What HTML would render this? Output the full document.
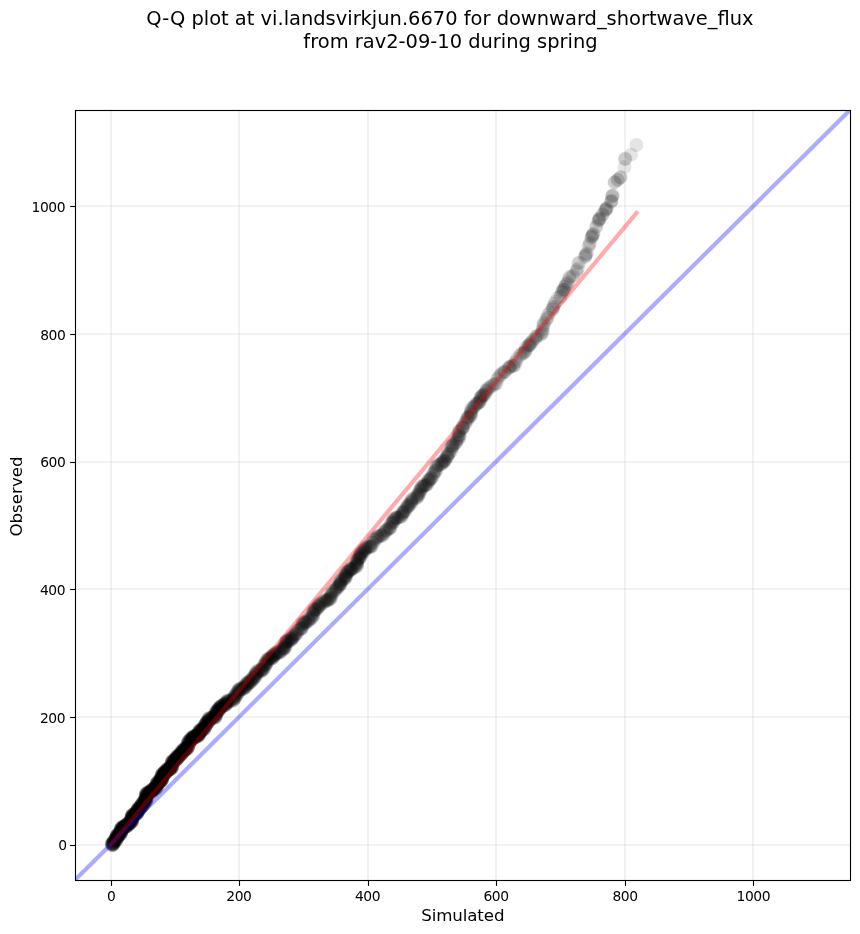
<!DOCTYPE html>
<html><head><meta charset="utf-8"><title>Q-Q plot</title>
<style>
html,body{margin:0;padding:0;background:#fff;}
svg{display:block;}
text{font-family:"DejaVu Sans","Liberation Sans",sans-serif;fill:#000;}
</style></head><body>
<svg width="860" height="934" viewBox="0 0 860 934">
<rect width="860" height="934" fill="#fff"/>
<defs><clipPath id="ax"><rect x="75.5" y="110.5" width="775.0" height="770.0"/></clipPath></defs>
<g clip-path="url(#ax)">
<g stroke="#b0b0b0" stroke-opacity="0.17" stroke-width="2"><line x1="111" y1="110.5" x2="111" y2="880.5"/><line x1="75.5" y1="845" x2="850.5" y2="845"/><line x1="239" y1="110.5" x2="239" y2="880.5"/><line x1="75.5" y1="717" x2="850.5" y2="717"/><line x1="368" y1="110.5" x2="368" y2="880.5"/><line x1="75.5" y1="589" x2="850.5" y2="589"/><line x1="496" y1="110.5" x2="496" y2="880.5"/><line x1="75.5" y1="462" x2="850.5" y2="462"/><line x1="625" y1="110.5" x2="625" y2="880.5"/><line x1="75.5" y1="334" x2="850.5" y2="334"/><line x1="753" y1="110.5" x2="753" y2="880.5"/><line x1="75.5" y1="206" x2="850.5" y2="206"/></g>
<g fill="#000" fill-opacity="0.1"><circle cx="112.7" cy="845.7" r="6.95"/><circle cx="111.7" cy="845.0" r="6.95"/><circle cx="112.7" cy="845.2" r="6.95"/><circle cx="111.8" cy="844.4" r="6.95"/><circle cx="113.1" cy="844.6" r="6.95"/><circle cx="111.9" cy="844.0" r="6.95"/><circle cx="113.3" cy="844.5" r="6.95"/><circle cx="112.1" cy="843.9" r="6.95"/><circle cx="113.0" cy="844.2" r="6.95"/><circle cx="111.8" cy="843.4" r="6.95"/><circle cx="113.3" cy="844.0" r="6.95"/><circle cx="112.1" cy="843.1" r="6.95"/><circle cx="113.2" cy="843.5" r="6.95"/><circle cx="112.6" cy="842.6" r="6.95"/><circle cx="113.9" cy="843.3" r="6.95"/><circle cx="113.0" cy="842.3" r="6.95"/><circle cx="114.2" cy="842.9" r="6.95"/><circle cx="113.5" cy="841.6" r="6.95"/><circle cx="114.4" cy="842.0" r="6.95"/><circle cx="113.5" cy="840.8" r="6.95"/><circle cx="115.2" cy="841.6" r="6.95"/><circle cx="114.2" cy="840.6" r="6.95"/><circle cx="115.2" cy="841.2" r="6.95"/><circle cx="114.5" cy="840.1" r="6.95"/><circle cx="115.9" cy="840.9" r="6.95"/><circle cx="114.7" cy="839.6" r="6.95"/><circle cx="116.0" cy="840.4" r="6.95"/><circle cx="115.3" cy="839.2" r="6.95"/><circle cx="116.6" cy="839.9" r="6.95"/><circle cx="115.5" cy="838.9" r="6.95"/><circle cx="116.9" cy="839.5" r="6.95"/><circle cx="115.9" cy="838.2" r="6.95"/><circle cx="116.9" cy="838.8" r="6.95"/><circle cx="115.8" cy="837.5" r="6.95"/><circle cx="117.1" cy="838.4" r="6.95"/><circle cx="116.2" cy="836.8" r="6.95"/><circle cx="117.4" cy="837.5" r="6.95"/><circle cx="116.5" cy="836.5" r="6.95"/><circle cx="117.6" cy="837.2" r="6.95"/><circle cx="116.5" cy="836.2" r="6.95"/><circle cx="117.8" cy="836.7" r="6.95"/><circle cx="116.7" cy="835.6" r="6.95"/><circle cx="117.8" cy="836.4" r="6.95"/><circle cx="116.8" cy="835.1" r="6.95"/><circle cx="118.1" cy="836.0" r="6.95"/><circle cx="117.0" cy="834.9" r="6.95"/><circle cx="118.6" cy="836.0" r="6.95"/><circle cx="117.4" cy="834.9" r="6.95"/><circle cx="118.8" cy="835.7" r="6.95"/><circle cx="117.6" cy="834.6" r="6.95"/><circle cx="119.1" cy="835.4" r="6.95"/><circle cx="118.0" cy="834.2" r="6.95"/><circle cx="119.5" cy="834.8" r="6.95"/><circle cx="118.7" cy="834.0" r="6.95"/><circle cx="119.6" cy="834.6" r="6.95"/><circle cx="118.8" cy="833.7" r="6.95"/><circle cx="120.3" cy="834.7" r="6.95"/><circle cx="119.2" cy="833.3" r="6.95"/><circle cx="120.4" cy="834.2" r="6.95"/><circle cx="119.4" cy="833.1" r="6.95"/><circle cx="121.0" cy="833.8" r="6.95"/><circle cx="119.8" cy="832.5" r="6.95"/><circle cx="121.0" cy="833.1" r="6.95"/><circle cx="120.3" cy="832.3" r="6.95"/><circle cx="121.4" cy="832.8" r="6.95"/><circle cx="120.6" cy="831.7" r="6.95"/><circle cx="121.6" cy="832.1" r="6.95"/><circle cx="120.5" cy="830.7" r="6.95"/><circle cx="121.5" cy="831.4" r="6.95"/><circle cx="120.5" cy="830.1" r="6.95"/><circle cx="121.7" cy="830.9" r="6.95"/><circle cx="120.6" cy="829.9" r="6.95"/><circle cx="121.9" cy="830.9" r="6.95"/><circle cx="120.6" cy="829.4" r="6.95"/><circle cx="121.9" cy="830.4" r="6.95"/><circle cx="120.7" cy="829.2" r="6.95"/><circle cx="122.0" cy="830.0" r="6.95"/><circle cx="120.7" cy="828.7" r="6.95"/><circle cx="121.8" cy="829.3" r="6.95"/><circle cx="121.0" cy="828.3" r="6.95"/><circle cx="122.2" cy="828.8" r="6.95"/><circle cx="121.4" cy="828.0" r="6.95"/><circle cx="122.5" cy="828.7" r="6.95"/><circle cx="121.7" cy="827.5" r="6.95"/><circle cx="122.7" cy="828.1" r="6.95"/><circle cx="122.0" cy="827.3" r="6.95"/><circle cx="123.0" cy="827.9" r="6.95"/><circle cx="122.6" cy="827.0" r="6.95"/><circle cx="123.5" cy="827.5" r="6.95"/><circle cx="123.0" cy="826.7" r="6.95"/><circle cx="124.2" cy="827.3" r="6.95"/><circle cx="123.4" cy="826.5" r="6.95"/><circle cx="124.7" cy="827.4" r="6.95"/><circle cx="123.6" cy="826.3" r="6.95"/><circle cx="124.8" cy="827.2" r="6.95"/><circle cx="124.1" cy="826.3" r="6.95"/><circle cx="125.5" cy="827.2" r="6.95"/><circle cx="124.3" cy="825.9" r="6.95"/><circle cx="125.9" cy="827.0" r="6.95"/><circle cx="124.9" cy="825.7" r="6.95"/><circle cx="126.2" cy="826.5" r="6.95"/><circle cx="125.4" cy="825.5" r="6.95"/><circle cx="126.8" cy="826.3" r="6.95"/><circle cx="125.9" cy="825.3" r="6.95"/><circle cx="127.3" cy="826.2" r="6.95"/><circle cx="126.1" cy="824.9" r="6.95"/><circle cx="127.6" cy="825.9" r="6.95"/><circle cx="126.4" cy="824.8" r="6.95"/><circle cx="127.7" cy="825.4" r="6.95"/><circle cx="127.0" cy="824.7" r="6.95"/><circle cx="128.1" cy="825.2" r="6.95"/><circle cx="127.0" cy="824.0" r="6.95"/><circle cx="128.5" cy="824.5" r="6.95"/><circle cx="127.7" cy="823.7" r="6.95"/><circle cx="128.8" cy="824.4" r="6.95"/><circle cx="127.8" cy="823.1" r="6.95"/><circle cx="129.3" cy="823.9" r="6.95"/><circle cx="128.6" cy="823.1" r="6.95"/><circle cx="129.5" cy="823.6" r="6.95"/><circle cx="128.8" cy="822.8" r="6.95"/><circle cx="129.9" cy="823.4" r="6.95"/><circle cx="129.0" cy="822.3" r="6.95"/><circle cx="130.4" cy="823.2" r="6.95"/><circle cx="129.8" cy="822.0" r="6.95"/><circle cx="131.0" cy="822.9" r="6.95"/><circle cx="130.0" cy="821.6" r="6.95"/><circle cx="131.1" cy="822.3" r="6.95"/><circle cx="130.6" cy="821.1" r="6.95"/><circle cx="131.8" cy="821.9" r="6.95"/><circle cx="130.6" cy="820.7" r="6.95"/><circle cx="132.1" cy="821.4" r="6.95"/><circle cx="130.8" cy="820.2" r="6.95"/><circle cx="132.2" cy="821.0" r="6.95"/><circle cx="131.2" cy="820.2" r="6.95"/><circle cx="132.5" cy="820.8" r="6.95"/><circle cx="131.3" cy="819.7" r="6.95"/><circle cx="132.4" cy="820.3" r="6.95"/><circle cx="131.3" cy="819.3" r="6.95"/><circle cx="132.4" cy="819.7" r="6.95"/><circle cx="131.3" cy="818.6" r="6.95"/><circle cx="132.6" cy="819.3" r="6.95"/><circle cx="131.4" cy="818.2" r="6.95"/><circle cx="132.5" cy="818.7" r="6.95"/><circle cx="131.4" cy="817.4" r="6.95"/><circle cx="132.4" cy="817.8" r="6.95"/><circle cx="131.4" cy="816.9" r="6.95"/><circle cx="132.5" cy="817.5" r="6.95"/><circle cx="131.6" cy="816.7" r="6.95"/><circle cx="132.8" cy="817.4" r="6.95"/><circle cx="131.6" cy="816.4" r="6.95"/><circle cx="132.9" cy="816.8" r="6.95"/><circle cx="131.7" cy="815.7" r="6.95"/><circle cx="132.9" cy="816.3" r="6.95"/><circle cx="131.9" cy="815.4" r="6.95"/><circle cx="133.2" cy="815.9" r="6.95"/><circle cx="132.2" cy="815.1" r="6.95"/><circle cx="133.3" cy="815.8" r="6.95"/><circle cx="132.5" cy="814.7" r="6.95"/><circle cx="133.8" cy="815.5" r="6.95"/><circle cx="132.9" cy="814.6" r="6.95"/><circle cx="134.3" cy="815.5" r="6.95"/><circle cx="133.0" cy="814.5" r="6.95"/><circle cx="134.8" cy="815.1" r="6.95"/><circle cx="133.6" cy="813.9" r="6.95"/><circle cx="135.2" cy="814.4" r="6.95"/><circle cx="134.5" cy="813.7" r="6.95"/><circle cx="135.9" cy="814.3" r="6.95"/><circle cx="135.0" cy="813.5" r="6.95"/><circle cx="136.3" cy="814.0" r="6.95"/><circle cx="135.5" cy="813.3" r="6.95"/><circle cx="136.6" cy="813.9" r="6.95"/><circle cx="135.7" cy="813.1" r="6.95"/><circle cx="137.0" cy="813.7" r="6.95"/><circle cx="135.9" cy="812.7" r="6.95"/><circle cx="137.4" cy="813.5" r="6.95"/><circle cx="136.3" cy="812.5" r="6.95"/><circle cx="137.6" cy="813.1" r="6.95"/><circle cx="136.5" cy="812.3" r="6.95"/><circle cx="137.6" cy="812.7" r="6.95"/><circle cx="136.5" cy="811.8" r="6.95"/><circle cx="137.7" cy="812.3" r="6.95"/><circle cx="136.8" cy="811.3" r="6.95"/><circle cx="138.0" cy="812.0" r="6.95"/><circle cx="137.1" cy="811.0" r="6.95"/><circle cx="137.9" cy="811.4" r="6.95"/><circle cx="137.0" cy="810.6" r="6.95"/><circle cx="138.1" cy="811.0" r="6.95"/><circle cx="137.3" cy="810.2" r="6.95"/><circle cx="138.3" cy="810.8" r="6.95"/><circle cx="137.1" cy="809.6" r="6.95"/><circle cx="138.4" cy="810.2" r="6.95"/><circle cx="137.4" cy="809.2" r="6.95"/><circle cx="139.0" cy="809.9" r="6.95"/><circle cx="138.0" cy="809.1" r="6.95"/><circle cx="139.0" cy="809.7" r="6.95"/><circle cx="137.9" cy="808.4" r="6.95"/><circle cx="139.6" cy="808.9" r="6.95"/><circle cx="138.5" cy="807.9" r="6.95"/><circle cx="140.0" cy="808.7" r="6.95"/><circle cx="139.2" cy="807.6" r="6.95"/><circle cx="140.4" cy="808.1" r="6.95"/><circle cx="139.4" cy="807.0" r="6.95"/><circle cx="140.7" cy="807.8" r="6.95"/><circle cx="139.9" cy="807.0" r="6.95"/><circle cx="141.2" cy="807.6" r="6.95"/><circle cx="139.8" cy="806.6" r="6.95"/><circle cx="141.2" cy="807.2" r="6.95"/><circle cx="140.4" cy="806.3" r="6.95"/><circle cx="141.9" cy="806.9" r="6.95"/><circle cx="140.7" cy="805.6" r="6.95"/><circle cx="142.2" cy="806.3" r="6.95"/><circle cx="141.3" cy="805.2" r="6.95"/><circle cx="142.5" cy="805.8" r="6.95"/><circle cx="141.3" cy="804.6" r="6.95"/><circle cx="142.8" cy="805.5" r="6.95"/><circle cx="141.5" cy="804.1" r="6.95"/><circle cx="143.1" cy="804.8" r="6.95"/><circle cx="142.0" cy="803.6" r="6.95"/><circle cx="143.1" cy="804.2" r="6.95"/><circle cx="142.2" cy="803.1" r="6.95"/><circle cx="143.7" cy="803.8" r="6.95"/><circle cx="142.5" cy="802.7" r="6.95"/><circle cx="144.0" cy="803.5" r="6.95"/><circle cx="143.1" cy="802.4" r="6.95"/><circle cx="144.5" cy="802.9" r="6.95"/><circle cx="143.5" cy="801.9" r="6.95"/><circle cx="144.6" cy="802.4" r="6.95"/><circle cx="143.8" cy="801.5" r="6.95"/><circle cx="144.8" cy="802.1" r="6.95"/><circle cx="144.2" cy="801.4" r="6.95"/><circle cx="145.4" cy="802.0" r="6.95"/><circle cx="144.3" cy="801.0" r="6.95"/><circle cx="145.8" cy="801.8" r="6.95"/><circle cx="144.6" cy="800.7" r="6.95"/><circle cx="145.9" cy="801.5" r="6.95"/><circle cx="144.9" cy="800.3" r="6.95"/><circle cx="146.3" cy="800.6" r="6.95"/><circle cx="145.3" cy="799.4" r="6.95"/><circle cx="146.7" cy="800.2" r="6.95"/><circle cx="145.6" cy="799.0" r="6.95"/><circle cx="146.8" cy="799.7" r="6.95"/><circle cx="145.7" cy="798.5" r="6.95"/><circle cx="146.5" cy="799.0" r="6.95"/><circle cx="145.5" cy="798.1" r="6.95"/><circle cx="146.5" cy="798.7" r="6.95"/><circle cx="145.4" cy="797.5" r="6.95"/><circle cx="146.5" cy="798.2" r="6.95"/><circle cx="145.3" cy="797.1" r="6.95"/><circle cx="146.7" cy="797.7" r="6.95"/><circle cx="145.6" cy="796.7" r="6.95"/><circle cx="146.4" cy="797.1" r="6.95"/><circle cx="145.5" cy="796.1" r="6.95"/><circle cx="146.3" cy="796.2" r="6.95"/><circle cx="145.6" cy="795.1" r="6.95"/><circle cx="146.6" cy="795.6" r="6.95"/><circle cx="145.7" cy="794.6" r="6.95"/><circle cx="146.9" cy="794.7" r="6.95"/><circle cx="145.9" cy="793.6" r="6.95"/><circle cx="147.3" cy="794.4" r="6.95"/><circle cx="146.3" cy="793.3" r="6.95"/><circle cx="147.5" cy="794.0" r="6.95"/><circle cx="146.5" cy="793.1" r="6.95"/><circle cx="148.1" cy="793.9" r="6.95"/><circle cx="147.0" cy="793.0" r="6.95"/><circle cx="148.4" cy="793.8" r="6.95"/><circle cx="147.1" cy="792.8" r="6.95"/><circle cx="148.7" cy="793.8" r="6.95"/><circle cx="147.9" cy="792.6" r="6.95"/><circle cx="149.1" cy="793.3" r="6.95"/><circle cx="148.4" cy="792.4" r="6.95"/><circle cx="149.7" cy="793.1" r="6.95"/><circle cx="148.9" cy="792.3" r="6.95"/><circle cx="150.2" cy="792.9" r="6.95"/><circle cx="149.5" cy="791.9" r="6.95"/><circle cx="150.5" cy="792.6" r="6.95"/><circle cx="149.8" cy="791.7" r="6.95"/><circle cx="150.8" cy="792.2" r="6.95"/><circle cx="150.2" cy="791.5" r="6.95"/><circle cx="151.3" cy="792.1" r="6.95"/><circle cx="150.4" cy="791.2" r="6.95"/><circle cx="151.9" cy="791.4" r="6.95"/><circle cx="150.8" cy="790.4" r="6.95"/><circle cx="152.1" cy="791.2" r="6.95"/><circle cx="151.2" cy="790.3" r="6.95"/><circle cx="152.2" cy="791.0" r="6.95"/><circle cx="151.3" cy="790.0" r="6.95"/><circle cx="152.6" cy="790.6" r="6.95"/><circle cx="152.0" cy="789.9" r="6.95"/><circle cx="152.8" cy="790.4" r="6.95"/><circle cx="152.1" cy="789.5" r="6.95"/><circle cx="153.2" cy="790.0" r="6.95"/><circle cx="152.7" cy="789.3" r="6.95"/><circle cx="153.8" cy="789.7" r="6.95"/><circle cx="152.9" cy="788.8" r="6.95"/><circle cx="154.7" cy="789.5" r="6.95"/><circle cx="153.7" cy="788.6" r="6.95"/><circle cx="154.9" cy="789.2" r="6.95"/><circle cx="154.4" cy="788.1" r="6.95"/><circle cx="155.8" cy="788.8" r="6.95"/><circle cx="154.9" cy="787.8" r="6.95"/><circle cx="155.8" cy="788.3" r="6.95"/><circle cx="155.0" cy="787.2" r="6.95"/><circle cx="156.3" cy="787.7" r="6.95"/><circle cx="155.6" cy="787.0" r="6.95"/><circle cx="156.8" cy="787.3" r="6.95"/><circle cx="155.9" cy="786.3" r="6.95"/><circle cx="157.0" cy="787.0" r="6.95"/><circle cx="156.2" cy="785.8" r="6.95"/><circle cx="157.3" cy="786.3" r="6.95"/><circle cx="156.1" cy="785.0" r="6.95"/><circle cx="157.5" cy="785.6" r="6.95"/><circle cx="156.2" cy="784.4" r="6.95"/><circle cx="157.4" cy="785.1" r="6.95"/><circle cx="156.5" cy="784.1" r="6.95"/><circle cx="157.6" cy="784.5" r="6.95"/><circle cx="156.7" cy="783.2" r="6.95"/><circle cx="158.2" cy="784.1" r="6.95"/><circle cx="156.9" cy="783.0" r="6.95"/><circle cx="158.0" cy="783.6" r="6.95"/><circle cx="157.1" cy="782.7" r="6.95"/><circle cx="158.4" cy="783.4" r="6.95"/><circle cx="157.2" cy="782.0" r="6.95"/><circle cx="159.0" cy="782.9" r="6.95"/><circle cx="157.9" cy="781.9" r="6.95"/><circle cx="159.5" cy="782.3" r="6.95"/><circle cx="158.3" cy="781.3" r="6.95"/><circle cx="159.8" cy="782.0" r="6.95"/><circle cx="159.0" cy="781.0" r="6.95"/><circle cx="160.4" cy="782.0" r="6.95"/><circle cx="159.3" cy="780.7" r="6.95"/><circle cx="160.6" cy="781.4" r="6.95"/><circle cx="159.7" cy="780.5" r="6.95"/><circle cx="161.0" cy="781.3" r="6.95"/><circle cx="160.3" cy="780.3" r="6.95"/><circle cx="161.3" cy="780.7" r="6.95"/><circle cx="160.7" cy="779.9" r="6.95"/><circle cx="161.7" cy="780.5" r="6.95"/><circle cx="160.7" cy="779.4" r="6.95"/><circle cx="162.0" cy="780.0" r="6.95"/><circle cx="160.9" cy="778.9" r="6.95"/><circle cx="162.1" cy="779.6" r="6.95"/><circle cx="161.0" cy="778.5" r="6.95"/><circle cx="162.5" cy="779.5" r="6.95"/><circle cx="161.0" cy="778.0" r="6.95"/><circle cx="162.2" cy="778.7" r="6.95"/><circle cx="161.2" cy="777.8" r="6.95"/><circle cx="162.5" cy="778.6" r="6.95"/><circle cx="161.5" cy="777.4" r="6.95"/><circle cx="162.4" cy="777.9" r="6.95"/><circle cx="161.4" cy="776.5" r="6.95"/><circle cx="162.6" cy="777.3" r="6.95"/><circle cx="161.2" cy="775.8" r="6.95"/><circle cx="162.6" cy="776.7" r="6.95"/><circle cx="161.5" cy="775.6" r="6.95"/><circle cx="162.8" cy="776.6" r="6.95"/><circle cx="161.8" cy="775.3" r="6.95"/><circle cx="162.9" cy="775.9" r="6.95"/><circle cx="161.6" cy="774.7" r="6.95"/><circle cx="163.1" cy="775.6" r="6.95"/><circle cx="162.2" cy="774.7" r="6.95"/><circle cx="163.1" cy="775.2" r="6.95"/><circle cx="162.2" cy="774.0" r="6.95"/><circle cx="163.7" cy="774.7" r="6.95"/><circle cx="162.5" cy="773.5" r="6.95"/><circle cx="163.9" cy="774.5" r="6.95"/><circle cx="163.0" cy="773.5" r="6.95"/><circle cx="164.0" cy="774.1" r="6.95"/><circle cx="163.4" cy="773.3" r="6.95"/><circle cx="164.6" cy="773.9" r="6.95"/><circle cx="163.9" cy="772.9" r="6.95"/><circle cx="164.7" cy="773.4" r="6.95"/><circle cx="163.9" cy="772.4" r="6.95"/><circle cx="165.4" cy="773.3" r="6.95"/><circle cx="164.5" cy="772.2" r="6.95"/><circle cx="165.8" cy="773.1" r="6.95"/><circle cx="164.7" cy="772.0" r="6.95"/><circle cx="166.0" cy="772.6" r="6.95"/><circle cx="165.1" cy="771.6" r="6.95"/><circle cx="166.4" cy="772.4" r="6.95"/><circle cx="165.2" cy="771.4" r="6.95"/><circle cx="166.5" cy="772.0" r="6.95"/><circle cx="165.5" cy="771.1" r="6.95"/><circle cx="166.7" cy="771.9" r="6.95"/><circle cx="165.7" cy="770.8" r="6.95"/><circle cx="167.0" cy="771.1" r="6.95"/><circle cx="166.0" cy="770.1" r="6.95"/><circle cx="167.4" cy="770.6" r="6.95"/><circle cx="166.5" cy="769.6" r="6.95"/><circle cx="167.8" cy="770.3" r="6.95"/><circle cx="167.2" cy="769.5" r="6.95"/><circle cx="168.2" cy="770.2" r="6.95"/><circle cx="167.2" cy="769.1" r="6.95"/><circle cx="168.6" cy="770.0" r="6.95"/><circle cx="167.6" cy="769.1" r="6.95"/><circle cx="168.7" cy="769.8" r="6.95"/><circle cx="167.8" cy="768.7" r="6.95"/><circle cx="169.0" cy="769.5" r="6.95"/><circle cx="168.0" cy="768.6" r="6.95"/><circle cx="169.3" cy="769.5" r="6.95"/><circle cx="168.3" cy="768.4" r="6.95"/><circle cx="170.0" cy="769.4" r="6.95"/><circle cx="168.9" cy="768.3" r="6.95"/><circle cx="170.2" cy="769.1" r="6.95"/><circle cx="169.7" cy="768.2" r="6.95"/><circle cx="170.9" cy="768.8" r="6.95"/><circle cx="170.1" cy="767.9" r="6.95"/><circle cx="171.0" cy="768.5" r="6.95"/><circle cx="170.6" cy="767.7" r="6.95"/><circle cx="171.7" cy="768.3" r="6.95"/><circle cx="170.6" cy="767.2" r="6.95"/><circle cx="172.0" cy="768.0" r="6.95"/><circle cx="171.0" cy="767.1" r="6.95"/><circle cx="172.0" cy="767.3" r="6.95"/><circle cx="171.0" cy="766.1" r="6.95"/><circle cx="172.3" cy="767.0" r="6.95"/><circle cx="171.2" cy="765.7" r="6.95"/><circle cx="172.5" cy="766.2" r="6.95"/><circle cx="171.2" cy="765.1" r="6.95"/><circle cx="172.5" cy="765.8" r="6.95"/><circle cx="171.3" cy="764.7" r="6.95"/><circle cx="172.4" cy="765.3" r="6.95"/><circle cx="171.4" cy="764.1" r="6.95"/><circle cx="172.3" cy="764.6" r="6.95"/><circle cx="171.3" cy="763.3" r="6.95"/><circle cx="172.6" cy="763.7" r="6.95"/><circle cx="171.5" cy="762.5" r="6.95"/><circle cx="173.0" cy="763.1" r="6.95"/><circle cx="171.7" cy="761.8" r="6.95"/><circle cx="173.1" cy="762.6" r="6.95"/><circle cx="172.1" cy="761.6" r="6.95"/><circle cx="173.0" cy="762.1" r="6.95"/><circle cx="172.2" cy="760.9" r="6.95"/><circle cx="173.7" cy="761.8" r="6.95"/><circle cx="172.8" cy="760.6" r="6.95"/><circle cx="174.2" cy="761.1" r="6.95"/><circle cx="173.2" cy="760.2" r="6.95"/><circle cx="174.6" cy="761.1" r="6.95"/><circle cx="173.8" cy="759.8" r="6.95"/><circle cx="175.1" cy="760.6" r="6.95"/><circle cx="174.3" cy="759.8" r="6.95"/><circle cx="175.5" cy="760.6" r="6.95"/><circle cx="174.6" cy="759.6" r="6.95"/><circle cx="176.0" cy="760.2" r="6.95"/><circle cx="175.2" cy="759.4" r="6.95"/><circle cx="176.1" cy="760.0" r="6.95"/><circle cx="175.2" cy="758.7" r="6.95"/><circle cx="176.6" cy="759.7" r="6.95"/><circle cx="175.7" cy="758.7" r="6.95"/><circle cx="176.7" cy="759.1" r="6.95"/><circle cx="175.9" cy="757.9" r="6.95"/><circle cx="177.5" cy="758.6" r="6.95"/><circle cx="176.4" cy="757.4" r="6.95"/><circle cx="177.8" cy="758.1" r="6.95"/><circle cx="176.6" cy="756.9" r="6.95"/><circle cx="178.0" cy="757.9" r="6.95"/><circle cx="176.8" cy="756.8" r="6.95"/><circle cx="178.1" cy="757.5" r="6.95"/><circle cx="177.1" cy="756.5" r="6.95"/><circle cx="178.3" cy="757.1" r="6.95"/><circle cx="177.2" cy="756.2" r="6.95"/><circle cx="178.4" cy="756.8" r="6.95"/><circle cx="177.8" cy="755.9" r="6.95"/><circle cx="178.9" cy="756.4" r="6.95"/><circle cx="177.9" cy="755.3" r="6.95"/><circle cx="179.1" cy="756.2" r="6.95"/><circle cx="178.4" cy="755.0" r="6.95"/><circle cx="179.6" cy="755.9" r="6.95"/><circle cx="179.0" cy="754.9" r="6.95"/><circle cx="180.3" cy="755.5" r="6.95"/><circle cx="179.7" cy="754.1" r="6.95"/><circle cx="181.2" cy="755.1" r="6.95"/><circle cx="180.5" cy="753.9" r="6.95"/><circle cx="181.3" cy="754.3" r="6.95"/><circle cx="180.6" cy="753.4" r="6.95"/><circle cx="181.8" cy="754.1" r="6.95"/><circle cx="180.9" cy="753.2" r="6.95"/><circle cx="182.0" cy="753.7" r="6.95"/><circle cx="181.2" cy="752.9" r="6.95"/><circle cx="182.4" cy="753.2" r="6.95"/><circle cx="181.5" cy="752.3" r="6.95"/><circle cx="182.6" cy="752.6" r="6.95"/><circle cx="181.4" cy="751.5" r="6.95"/><circle cx="182.9" cy="752.2" r="6.95"/><circle cx="181.7" cy="750.9" r="6.95"/><circle cx="182.9" cy="751.7" r="6.95"/><circle cx="182.2" cy="750.9" r="6.95"/><circle cx="183.3" cy="751.6" r="6.95"/><circle cx="182.2" cy="750.6" r="6.95"/><circle cx="183.6" cy="751.3" r="6.95"/><circle cx="182.6" cy="750.2" r="6.95"/><circle cx="183.8" cy="750.6" r="6.95"/><circle cx="183.2" cy="749.3" r="6.95"/><circle cx="184.6" cy="750.1" r="6.95"/><circle cx="183.8" cy="749.2" r="6.95"/><circle cx="184.9" cy="749.9" r="6.95"/><circle cx="184.6" cy="748.8" r="6.95"/><circle cx="185.6" cy="749.6" r="6.95"/><circle cx="184.8" cy="748.7" r="6.95"/><circle cx="185.8" cy="749.5" r="6.95"/><circle cx="185.0" cy="748.5" r="6.95"/><circle cx="186.3" cy="749.5" r="6.95"/><circle cx="185.6" cy="748.5" r="6.95"/><circle cx="186.8" cy="749.1" r="6.95"/><circle cx="185.8" cy="748.0" r="6.95"/><circle cx="187.3" cy="749.2" r="6.95"/><circle cx="186.3" cy="748.1" r="6.95"/><circle cx="187.5" cy="748.8" r="6.95"/><circle cx="186.7" cy="747.7" r="6.95"/><circle cx="187.8" cy="748.1" r="6.95"/><circle cx="187.4" cy="746.7" r="6.95"/><circle cx="188.3" cy="746.9" r="6.95"/><circle cx="187.6" cy="745.7" r="6.95"/><circle cx="188.5" cy="746.3" r="6.95"/><circle cx="187.4" cy="745.1" r="6.95"/><circle cx="188.6" cy="746.0" r="6.95"/><circle cx="187.3" cy="744.4" r="6.95"/><circle cx="188.7" cy="745.3" r="6.95"/><circle cx="187.6" cy="743.8" r="6.95"/><circle cx="188.6" cy="744.2" r="6.95"/><circle cx="187.6" cy="742.7" r="6.95"/><circle cx="188.8" cy="743.1" r="6.95"/><circle cx="187.8" cy="741.9" r="6.95"/><circle cx="189.2" cy="743.0" r="6.95"/><circle cx="188.3" cy="741.7" r="6.95"/><circle cx="189.3" cy="742.3" r="6.95"/><circle cx="188.7" cy="741.2" r="6.95"/><circle cx="189.8" cy="741.6" r="6.95"/><circle cx="189.1" cy="740.5" r="6.95"/><circle cx="190.6" cy="741.4" r="6.95"/><circle cx="189.7" cy="740.2" r="6.95"/><circle cx="190.9" cy="740.6" r="6.95"/><circle cx="190.1" cy="739.7" r="6.95"/><circle cx="191.3" cy="740.3" r="6.95"/><circle cx="190.4" cy="739.2" r="6.95"/><circle cx="191.7" cy="739.9" r="6.95"/><circle cx="190.8" cy="738.6" r="6.95"/><circle cx="192.4" cy="739.2" r="6.95"/><circle cx="191.5" cy="737.9" r="6.95"/><circle cx="192.6" cy="738.6" r="6.95"/><circle cx="191.8" cy="737.6" r="6.95"/><circle cx="192.8" cy="738.4" r="6.95"/><circle cx="192.3" cy="737.6" r="6.95"/><circle cx="193.2" cy="738.3" r="6.95"/><circle cx="192.4" cy="737.3" r="6.95"/><circle cx="193.6" cy="738.1" r="6.95"/><circle cx="192.7" cy="736.8" r="6.95"/><circle cx="194.2" cy="737.9" r="6.95"/><circle cx="193.1" cy="736.8" r="6.95"/><circle cx="194.3" cy="737.5" r="6.95"/><circle cx="193.5" cy="736.4" r="6.95"/><circle cx="194.8" cy="737.4" r="6.95"/><circle cx="193.7" cy="736.2" r="6.95"/><circle cx="195.0" cy="737.2" r="6.95"/><circle cx="194.1" cy="736.1" r="6.95"/><circle cx="195.4" cy="737.1" r="6.95"/><circle cx="194.5" cy="736.0" r="6.95"/><circle cx="195.7" cy="736.8" r="6.95"/><circle cx="195.5" cy="735.8" r="6.95"/><circle cx="197.1" cy="736.8" r="6.95"/><circle cx="196.2" cy="735.8" r="6.95"/><circle cx="197.1" cy="736.4" r="6.95"/><circle cx="196.6" cy="735.7" r="6.95"/><circle cx="197.8" cy="736.4" r="6.95"/><circle cx="197.1" cy="735.4" r="6.95"/><circle cx="198.1" cy="736.0" r="6.95"/><circle cx="197.4" cy="734.9" r="6.95"/><circle cx="198.7" cy="735.5" r="6.95"/><circle cx="197.8" cy="734.5" r="6.95"/><circle cx="198.8" cy="735.2" r="6.95"/><circle cx="197.9" cy="734.0" r="6.95"/><circle cx="199.1" cy="734.9" r="6.95"/><circle cx="198.2" cy="733.9" r="6.95"/><circle cx="199.4" cy="734.7" r="6.95"/><circle cx="198.3" cy="733.4" r="6.95"/><circle cx="199.6" cy="734.2" r="6.95"/><circle cx="198.3" cy="732.8" r="6.95"/><circle cx="199.8" cy="733.5" r="6.95"/><circle cx="198.8" cy="732.3" r="6.95"/><circle cx="199.7" cy="732.7" r="6.95"/><circle cx="198.7" cy="731.5" r="6.95"/><circle cx="199.9" cy="732.0" r="6.95"/><circle cx="199.0" cy="730.8" r="6.95"/><circle cx="200.3" cy="731.6" r="6.95"/><circle cx="199.7" cy="730.7" r="6.95"/><circle cx="200.7" cy="731.3" r="6.95"/><circle cx="200.0" cy="730.2" r="6.95"/><circle cx="201.2" cy="731.0" r="6.95"/><circle cx="200.1" cy="729.8" r="6.95"/><circle cx="201.6" cy="731.0" r="6.95"/><circle cx="200.5" cy="729.8" r="6.95"/><circle cx="202.0" cy="730.4" r="6.95"/><circle cx="201.2" cy="729.6" r="6.95"/><circle cx="202.3" cy="730.3" r="6.95"/><circle cx="202.1" cy="729.1" r="6.95"/><circle cx="203.6" cy="729.9" r="6.95"/><circle cx="202.4" cy="728.7" r="6.95"/><circle cx="203.6" cy="729.5" r="6.95"/><circle cx="203.0" cy="728.5" r="6.95"/><circle cx="204.3" cy="729.3" r="6.95"/><circle cx="203.3" cy="727.9" r="6.95"/><circle cx="204.8" cy="728.7" r="6.95"/><circle cx="203.6" cy="727.0" r="6.95"/><circle cx="204.8" cy="727.5" r="6.95"/><circle cx="204.0" cy="726.2" r="6.95"/><circle cx="205.4" cy="727.2" r="6.95"/><circle cx="204.4" cy="726.0" r="6.95"/><circle cx="205.6" cy="726.5" r="6.95"/><circle cx="204.4" cy="724.9" r="6.95"/><circle cx="206.1" cy="725.5" r="6.95"/><circle cx="205.1" cy="724.2" r="6.95"/><circle cx="206.3" cy="724.6" r="6.95"/><circle cx="205.5" cy="723.6" r="6.95"/><circle cx="206.9" cy="724.4" r="6.95"/><circle cx="205.8" cy="723.1" r="6.95"/><circle cx="206.9" cy="723.8" r="6.95"/><circle cx="206.5" cy="722.8" r="6.95"/><circle cx="207.4" cy="723.2" r="6.95"/><circle cx="206.5" cy="722.3" r="6.95"/><circle cx="207.6" cy="722.9" r="6.95"/><circle cx="206.8" cy="721.7" r="6.95"/><circle cx="208.3" cy="722.7" r="6.95"/><circle cx="207.3" cy="721.6" r="6.95"/><circle cx="208.4" cy="722.1" r="6.95"/><circle cx="207.7" cy="720.7" r="6.95"/><circle cx="208.9" cy="721.0" r="6.95"/><circle cx="208.0" cy="719.8" r="6.95"/><circle cx="209.5" cy="720.5" r="6.95"/><circle cx="208.4" cy="719.0" r="6.95"/><circle cx="209.7" cy="719.8" r="6.95"/><circle cx="208.6" cy="718.7" r="6.95"/><circle cx="209.8" cy="719.4" r="6.95"/><circle cx="208.9" cy="718.2" r="6.95"/><circle cx="210.3" cy="719.1" r="6.95"/><circle cx="209.6" cy="717.8" r="6.95"/><circle cx="211.5" cy="718.9" r="6.95"/><circle cx="210.8" cy="717.6" r="6.95"/><circle cx="212.1" cy="718.4" r="6.95"/><circle cx="211.8" cy="717.5" r="6.95"/><circle cx="212.8" cy="718.2" r="6.95"/><circle cx="212.6" cy="717.3" r="6.95"/><circle cx="214.2" cy="718.2" r="6.95"/><circle cx="213.3" cy="716.8" r="6.95"/><circle cx="214.9" cy="717.8" r="6.95"/><circle cx="213.9" cy="716.4" r="6.95"/><circle cx="215.5" cy="717.4" r="6.95"/><circle cx="214.5" cy="716.2" r="6.95"/><circle cx="215.9" cy="716.8" r="6.95"/><circle cx="214.8" cy="715.3" r="6.95"/><circle cx="216.1" cy="716.0" r="6.95"/><circle cx="215.4" cy="714.1" r="6.95"/><circle cx="216.2" cy="714.6" r="6.95"/><circle cx="215.4" cy="713.4" r="6.95"/><circle cx="216.7" cy="714.3" r="6.95"/><circle cx="215.4" cy="712.6" r="6.95"/><circle cx="216.6" cy="713.4" r="6.95"/><circle cx="215.7" cy="712.0" r="6.95"/><circle cx="216.9" cy="712.6" r="6.95"/><circle cx="216.1" cy="711.6" r="6.95"/><circle cx="217.5" cy="712.2" r="6.95"/><circle cx="216.5" cy="710.7" r="6.95"/><circle cx="217.9" cy="711.3" r="6.95"/><circle cx="217.5" cy="710.1" r="6.95"/><circle cx="218.5" cy="710.7" r="6.95"/><circle cx="217.6" cy="709.6" r="6.95"/><circle cx="218.9" cy="710.4" r="6.95"/><circle cx="218.1" cy="709.4" r="6.95"/><circle cx="219.3" cy="710.2" r="6.95"/><circle cx="218.5" cy="708.7" r="6.95"/><circle cx="219.7" cy="709.5" r="6.95"/><circle cx="218.7" cy="708.3" r="6.95"/><circle cx="220.0" cy="708.9" r="6.95"/><circle cx="219.2" cy="707.7" r="6.95"/><circle cx="220.3" cy="708.2" r="6.95"/><circle cx="219.7" cy="707.1" r="6.95"/><circle cx="220.7" cy="707.6" r="6.95"/><circle cx="220.2" cy="706.6" r="6.95"/><circle cx="221.2" cy="707.3" r="6.95"/><circle cx="220.5" cy="706.2" r="6.95"/><circle cx="221.6" cy="706.5" r="6.95"/><circle cx="221.5" cy="705.6" r="6.95"/><circle cx="222.5" cy="706.4" r="6.95"/><circle cx="222.0" cy="705.2" r="6.95"/><circle cx="223.6" cy="705.9" r="6.95"/><circle cx="223.2" cy="704.5" r="6.95"/><circle cx="224.7" cy="705.6" r="6.95"/><circle cx="224.2" cy="704.1" r="6.95"/><circle cx="225.3" cy="705.2" r="6.95"/><circle cx="224.5" cy="704.0" r="6.95"/><circle cx="225.6" cy="704.9" r="6.95"/><circle cx="224.9" cy="703.7" r="6.95"/><circle cx="226.2" cy="704.8" r="6.95"/><circle cx="225.3" cy="703.2" r="6.95"/><circle cx="226.6" cy="703.8" r="6.95"/><circle cx="226.3" cy="702.3" r="6.95"/><circle cx="227.3" cy="703.2" r="6.95"/><circle cx="226.4" cy="701.6" r="6.95"/><circle cx="227.6" cy="702.5" r="6.95"/><circle cx="226.8" cy="701.2" r="6.95"/><circle cx="227.8" cy="702.2" r="6.95"/><circle cx="227.0" cy="700.8" r="6.95"/><circle cx="228.8" cy="701.5" r="6.95"/><circle cx="228.3" cy="700.1" r="6.95"/><circle cx="230.1" cy="701.0" r="6.95"/><circle cx="229.8" cy="700.1" r="6.95"/><circle cx="231.8" cy="701.0" r="6.95"/><circle cx="231.0" cy="699.8" r="6.95"/><circle cx="233.2" cy="700.6" r="6.95"/><circle cx="232.5" cy="699.3" r="6.95"/><circle cx="233.6" cy="700.0" r="6.95"/><circle cx="233.3" cy="698.3" r="6.95"/><circle cx="234.5" cy="698.8" r="6.95"/><circle cx="233.8" cy="697.4" r="6.95"/><circle cx="235.0" cy="698.3" r="6.95"/><circle cx="234.3" cy="696.5" r="6.95"/><circle cx="235.4" cy="697.3" r="6.95"/><circle cx="234.7" cy="695.5" r="6.95"/><circle cx="235.7" cy="696.2" r="6.95"/><circle cx="235.4" cy="694.9" r="6.95"/><circle cx="236.9" cy="695.4" r="6.95"/><circle cx="236.1" cy="693.8" r="6.95"/><circle cx="237.8" cy="693.8" r="6.95"/><circle cx="237.1" cy="692.4" r="6.95"/><circle cx="238.5" cy="692.8" r="6.95"/><circle cx="237.4" cy="691.1" r="6.95"/><circle cx="238.8" cy="691.9" r="6.95"/><circle cx="238.0" cy="690.4" r="6.95"/><circle cx="238.8" cy="691.0" r="6.95"/><circle cx="238.4" cy="689.8" r="6.95"/><circle cx="239.5" cy="690.1" r="6.95"/><circle cx="239.6" cy="688.7" r="6.95"/><circle cx="240.9" cy="689.4" r="6.95"/><circle cx="240.1" cy="688.5" r="6.95"/><circle cx="241.8" cy="689.4" r="6.95"/><circle cx="241.4" cy="688.2" r="6.95"/><circle cx="242.9" cy="689.2" r="6.95"/><circle cx="242.4" cy="688.1" r="6.95"/><circle cx="243.7" cy="688.8" r="6.95"/><circle cx="243.7" cy="687.3" r="6.95"/><circle cx="244.8" cy="688.2" r="6.95"/><circle cx="244.5" cy="686.9" r="6.95"/><circle cx="245.6" cy="687.6" r="6.95"/><circle cx="244.7" cy="686.2" r="6.95"/><circle cx="246.2" cy="686.6" r="6.95"/><circle cx="245.0" cy="685.2" r="6.95"/><circle cx="246.9" cy="685.0" r="6.95"/><circle cx="246.2" cy="683.5" r="6.95"/><circle cx="247.7" cy="684.4" r="6.95"/><circle cx="246.8" cy="683.3" r="6.95"/><circle cx="247.7" cy="683.8" r="6.95"/><circle cx="247.3" cy="682.5" r="6.95"/><circle cx="248.6" cy="683.7" r="6.95"/><circle cx="248.0" cy="682.0" r="6.95"/><circle cx="249.7" cy="683.1" r="6.95"/><circle cx="249.6" cy="681.6" r="6.95"/><circle cx="250.7" cy="682.3" r="6.95"/><circle cx="250.0" cy="680.9" r="6.95"/><circle cx="251.2" cy="681.6" r="6.95"/><circle cx="250.4" cy="680.5" r="6.95"/><circle cx="252.2" cy="680.4" r="6.95"/><circle cx="251.4" cy="679.0" r="6.95"/><circle cx="253.0" cy="679.3" r="6.95"/><circle cx="252.4" cy="677.7" r="6.95"/><circle cx="253.7" cy="678.6" r="6.95"/><circle cx="253.3" cy="677.7" r="6.95"/><circle cx="254.4" cy="678.3" r="6.95"/><circle cx="254.1" cy="676.7" r="6.95"/><circle cx="255.7" cy="676.9" r="6.95"/><circle cx="254.8" cy="675.4" r="6.95"/><circle cx="256.2" cy="675.8" r="6.95"/><circle cx="255.2" cy="674.2" r="6.95"/><circle cx="256.4" cy="674.5" r="6.95"/><circle cx="255.8" cy="673.4" r="6.95"/><circle cx="257.1" cy="673.5" r="6.95"/><circle cx="256.0" cy="672.3" r="6.95"/><circle cx="257.3" cy="672.7" r="6.95"/><circle cx="256.6" cy="671.1" r="6.95"/><circle cx="258.8" cy="671.7" r="6.95"/><circle cx="258.4" cy="670.3" r="6.95"/><circle cx="260.4" cy="671.3" r="6.95"/><circle cx="259.6" cy="670.2" r="6.95"/><circle cx="261.4" cy="671.0" r="6.95"/><circle cx="260.5" cy="669.8" r="6.95"/><circle cx="262.1" cy="670.8" r="6.95"/><circle cx="261.6" cy="669.6" r="6.95"/><circle cx="263.0" cy="670.2" r="6.95"/><circle cx="262.1" cy="669.0" r="6.95"/><circle cx="263.4" cy="669.0" r="6.95"/><circle cx="262.6" cy="667.7" r="6.95"/><circle cx="264.2" cy="668.2" r="6.95"/><circle cx="263.3" cy="666.0" r="6.95"/><circle cx="265.2" cy="666.1" r="6.95"/><circle cx="264.3" cy="664.9" r="6.95"/><circle cx="265.7" cy="665.1" r="6.95"/><circle cx="265.0" cy="664.1" r="6.95"/><circle cx="266.2" cy="664.7" r="6.95"/><circle cx="265.3" cy="663.1" r="6.95"/><circle cx="266.7" cy="663.2" r="6.95"/><circle cx="265.9" cy="661.7" r="6.95"/><circle cx="267.1" cy="662.3" r="6.95"/><circle cx="266.5" cy="660.4" r="6.95"/><circle cx="267.7" cy="660.8" r="6.95"/><circle cx="267.1" cy="659.7" r="6.95"/><circle cx="268.7" cy="659.8" r="6.95"/><circle cx="268.1" cy="658.6" r="6.95"/><circle cx="269.3" cy="659.1" r="6.95"/><circle cx="269.0" cy="658.1" r="6.95"/><circle cx="270.4" cy="658.9" r="6.95"/><circle cx="270.2" cy="657.5" r="6.95"/><circle cx="271.9" cy="658.6" r="6.95"/><circle cx="271.3" cy="657.5" r="6.95"/><circle cx="272.3" cy="658.4" r="6.95"/><circle cx="271.5" cy="656.9" r="6.95"/><circle cx="273.1" cy="657.9" r="6.95"/><circle cx="272.3" cy="656.1" r="6.95"/><circle cx="273.8" cy="656.6" r="6.95"/><circle cx="272.9" cy="655.1" r="6.95"/><circle cx="274.2" cy="655.9" r="6.95"/><circle cx="273.4" cy="654.5" r="6.95"/><circle cx="274.7" cy="655.2" r="6.95"/><circle cx="273.9" cy="654.1" r="6.95"/><circle cx="275.5" cy="654.3" r="6.95"/><circle cx="275.1" cy="653.0" r="6.95"/><circle cx="276.5" cy="653.9" r="6.95"/><circle cx="275.9" cy="652.5" r="6.95"/><circle cx="277.7" cy="653.3" r="6.95"/><circle cx="277.9" cy="652.2" r="6.95"/><circle cx="279.3" cy="652.9" r="6.95"/><circle cx="279.0" cy="651.5" r="6.95"/><circle cx="280.2" cy="652.6" r="6.95"/><circle cx="279.6" cy="651.1" r="6.95"/><circle cx="281.2" cy="651.4" r="6.95"/><circle cx="281.2" cy="649.7" r="6.95"/><circle cx="283.1" cy="650.1" r="6.95"/><circle cx="282.6" cy="648.4" r="6.95"/><circle cx="283.8" cy="649.0" r="6.95"/><circle cx="283.1" cy="648.1" r="6.95"/><circle cx="284.3" cy="648.4" r="6.95"/><circle cx="283.7" cy="647.3" r="6.95"/><circle cx="285.1" cy="648.0" r="6.95"/><circle cx="284.3" cy="646.4" r="6.95"/><circle cx="285.5" cy="646.9" r="6.95"/><circle cx="284.8" cy="644.9" r="6.95"/><circle cx="285.9" cy="645.1" r="6.95"/><circle cx="285.1" cy="643.0" r="6.95"/><circle cx="286.3" cy="643.2" r="6.95"/><circle cx="285.6" cy="641.7" r="6.95"/><circle cx="286.7" cy="642.3" r="6.95"/><circle cx="286.4" cy="641.0" r="6.95"/><circle cx="287.8" cy="641.7" r="6.95"/><circle cx="286.9" cy="640.7" r="6.95"/><circle cx="288.4" cy="641.5" r="6.95"/><circle cx="288.5" cy="640.1" r="6.95"/><circle cx="290.3" cy="640.7" r="6.95"/><circle cx="290.0" cy="639.3" r="6.95"/><circle cx="291.5" cy="640.1" r="6.95"/><circle cx="290.6" cy="638.6" r="6.95"/><circle cx="291.8" cy="639.4" r="6.95"/><circle cx="291.2" cy="638.2" r="6.95"/><circle cx="292.3" cy="638.5" r="6.95"/><circle cx="291.7" cy="637.5" r="6.95"/><circle cx="293.2" cy="637.5" r="6.95"/><circle cx="292.2" cy="636.2" r="6.95"/><circle cx="294.1" cy="636.7" r="6.95"/><circle cx="293.8" cy="635.2" r="6.95"/><circle cx="295.5" cy="635.2" r="6.95"/><circle cx="295.1" cy="634.0" r="6.95"/><circle cx="296.3" cy="634.2" r="6.95"/><circle cx="295.6" cy="632.8" r="6.95"/><circle cx="296.9" cy="633.1" r="6.95"/><circle cx="297.0" cy="630.7" r="6.95"/><circle cx="298.7" cy="630.6" r="6.95"/><circle cx="298.7" cy="629.3" r="6.95"/><circle cx="300.9" cy="629.4" r="6.95"/><circle cx="300.4" cy="628.4" r="6.95"/><circle cx="301.7" cy="628.5" r="6.95"/><circle cx="301.4" cy="627.5" r="6.95"/><circle cx="302.5" cy="627.8" r="6.95"/><circle cx="301.8" cy="625.2" r="6.95"/><circle cx="302.9" cy="624.9" r="6.95"/><circle cx="302.3" cy="623.7" r="6.95"/><circle cx="303.6" cy="624.3" r="6.95"/><circle cx="303.3" cy="622.6" r="6.95"/><circle cx="305.2" cy="623.2" r="6.95"/><circle cx="304.1" cy="621.9" r="6.95"/><circle cx="305.6" cy="622.6" r="6.95"/><circle cx="305.2" cy="621.6" r="6.95"/><circle cx="307.1" cy="622.3" r="6.95"/><circle cx="307.1" cy="621.0" r="6.95"/><circle cx="308.4" cy="621.1" r="6.95"/><circle cx="308.3" cy="619.8" r="6.95"/><circle cx="309.4" cy="620.2" r="6.95"/><circle cx="309.0" cy="618.8" r="6.95"/><circle cx="311.3" cy="618.7" r="6.95"/><circle cx="310.6" cy="617.8" r="6.95"/><circle cx="312.5" cy="617.6" r="6.95"/><circle cx="311.8" cy="616.1" r="6.95"/><circle cx="313.3" cy="616.1" r="6.95"/><circle cx="312.6" cy="614.1" r="6.95"/><circle cx="313.8" cy="614.7" r="6.95"/><circle cx="312.6" cy="613.1" r="6.95"/><circle cx="313.6" cy="612.5" r="6.95"/><circle cx="313.1" cy="611.1" r="6.95"/><circle cx="314.6" cy="611.1" r="6.95"/><circle cx="314.2" cy="609.5" r="6.95"/><circle cx="315.3" cy="610.0" r="6.95"/><circle cx="314.8" cy="608.9" r="6.95"/><circle cx="316.0" cy="609.6" r="6.95"/><circle cx="316.1" cy="608.7" r="6.95"/><circle cx="317.2" cy="609.0" r="6.95"/><circle cx="317.8" cy="607.0" r="6.95"/><circle cx="318.6" cy="607.3" r="6.95"/><circle cx="318.0" cy="606.0" r="6.95"/><circle cx="319.1" cy="606.5" r="6.95"/><circle cx="318.5" cy="604.7" r="6.95"/><circle cx="320.1" cy="605.1" r="6.95"/><circle cx="319.5" cy="603.7" r="6.95"/><circle cx="321.4" cy="604.4" r="6.95"/><circle cx="320.9" cy="602.8" r="6.95"/><circle cx="323.1" cy="603.5" r="6.95"/><circle cx="322.8" cy="601.9" r="6.95"/><circle cx="324.7" cy="601.9" r="6.95"/><circle cx="324.2" cy="600.7" r="6.95"/><circle cx="326.0" cy="601.3" r="6.95"/><circle cx="325.4" cy="599.9" r="6.95"/><circle cx="326.9" cy="600.9" r="6.95"/><circle cx="326.6" cy="599.5" r="6.95"/><circle cx="327.9" cy="600.4" r="6.95"/><circle cx="328.0" cy="599.3" r="6.95"/><circle cx="329.5" cy="599.7" r="6.95"/><circle cx="329.1" cy="598.6" r="6.95"/><circle cx="330.5" cy="599.2" r="6.95"/><circle cx="330.0" cy="597.7" r="6.95"/><circle cx="331.3" cy="597.8" r="6.95"/><circle cx="330.6" cy="596.0" r="6.95"/><circle cx="331.7" cy="595.3" r="6.95"/><circle cx="330.7" cy="593.7" r="6.95"/><circle cx="332.2" cy="593.6" r="6.95"/><circle cx="331.8" cy="591.8" r="6.95"/><circle cx="334.0" cy="592.0" r="6.95"/><circle cx="332.9" cy="590.8" r="6.95"/><circle cx="335.5" cy="590.8" r="6.95"/><circle cx="334.9" cy="589.6" r="6.95"/><circle cx="336.3" cy="589.1" r="6.95"/><circle cx="335.9" cy="587.5" r="6.95"/><circle cx="337.5" cy="588.1" r="6.95"/><circle cx="336.8" cy="587.0" r="6.95"/><circle cx="338.8" cy="586.6" r="6.95"/><circle cx="338.2" cy="585.8" r="6.95"/><circle cx="339.7" cy="585.7" r="6.95"/><circle cx="339.1" cy="584.4" r="6.95"/><circle cx="340.4" cy="584.7" r="6.95"/><circle cx="339.8" cy="583.7" r="6.95"/><circle cx="340.7" cy="584.0" r="6.95"/><circle cx="339.9" cy="582.1" r="6.95"/><circle cx="341.1" cy="582.6" r="6.95"/><circle cx="340.3" cy="581.1" r="6.95"/><circle cx="341.9" cy="580.9" r="6.95"/><circle cx="341.1" cy="580.0" r="6.95"/><circle cx="343.1" cy="579.8" r="6.95"/><circle cx="342.8" cy="578.9" r="6.95"/><circle cx="344.7" cy="578.9" r="6.95"/><circle cx="344.5" cy="578.0" r="6.95"/><circle cx="345.5" cy="578.2" r="6.95"/><circle cx="344.8" cy="576.7" r="6.95"/><circle cx="346.2" cy="577.0" r="6.95"/><circle cx="345.3" cy="575.5" r="6.95"/><circle cx="346.1" cy="576.0" r="6.95"/><circle cx="345.4" cy="574.8" r="6.95"/><circle cx="346.4" cy="574.4" r="6.95"/><circle cx="346.1" cy="572.6" r="6.95"/><circle cx="347.4" cy="572.7" r="6.95"/><circle cx="347.2" cy="571.6" r="6.95"/><circle cx="348.4" cy="571.9" r="6.95"/><circle cx="347.9" cy="571.2" r="6.95"/><circle cx="348.9" cy="571.9" r="6.95"/><circle cx="349.1" cy="570.1" r="6.95"/><circle cx="350.8" cy="570.3" r="6.95"/><circle cx="350.2" cy="569.3" r="6.95"/><circle cx="351.1" cy="569.6" r="6.95"/><circle cx="350.5" cy="568.7" r="6.95"/><circle cx="351.6" cy="569.2" r="6.95"/><circle cx="351.3" cy="568.3" r="6.95"/><circle cx="353.2" cy="568.3" r="6.95"/><circle cx="353.1" cy="567.3" r="6.95"/><circle cx="354.8" cy="567.8" r="6.95"/><circle cx="354.9" cy="566.5" r="6.95"/><circle cx="356.7" cy="566.6" r="6.95"/><circle cx="355.8" cy="565.2" r="6.95"/><circle cx="357.3" cy="565.6" r="6.95"/><circle cx="356.4" cy="564.0" r="6.95"/><circle cx="357.4" cy="563.9" r="6.95"/><circle cx="356.2" cy="562.9" r="6.95"/><circle cx="357.2" cy="562.9" r="6.95"/><circle cx="356.1" cy="561.3" r="6.95"/><circle cx="357.3" cy="561.3" r="6.95"/><circle cx="356.9" cy="560.0" r="6.95"/><circle cx="358.4" cy="559.7" r="6.95"/><circle cx="357.9" cy="558.6" r="6.95"/><circle cx="359.1" cy="558.9" r="6.95"/><circle cx="359.0" cy="557.5" r="6.95"/><circle cx="360.2" cy="557.8" r="6.95"/><circle cx="359.1" cy="556.7" r="6.95"/><circle cx="360.5" cy="557.3" r="6.95"/><circle cx="359.5" cy="555.6" r="6.95"/><circle cx="361.1" cy="555.6" r="6.95"/><circle cx="359.8" cy="554.1" r="6.95"/><circle cx="361.1" cy="554.2" r="6.95"/><circle cx="360.3" cy="553.2" r="6.95"/><circle cx="361.6" cy="553.7" r="6.95"/><circle cx="361.5" cy="552.2" r="6.95"/><circle cx="363.4" cy="552.3" r="6.95"/><circle cx="362.7" cy="550.9" r="6.95"/><circle cx="364.5" cy="551.1" r="6.95"/><circle cx="364.2" cy="549.7" r="6.95"/><circle cx="365.1" cy="550.2" r="6.95"/><circle cx="364.5" cy="548.7" r="6.95"/><circle cx="365.7" cy="549.1" r="6.95"/><circle cx="365.6" cy="547.3" r="6.95"/><circle cx="367.3" cy="547.9" r="6.95"/><circle cx="366.7" cy="546.7" r="6.95"/><circle cx="368.7" cy="547.4" r="6.95"/><circle cx="368.9" cy="546.6" r="6.95"/><circle cx="370.2" cy="547.2" r="6.95"/><circle cx="369.8" cy="546.2" r="6.95"/><circle cx="371.0" cy="547.0" r="6.95"/><circle cx="370.9" cy="545.5" r="6.95"/><circle cx="372.4" cy="545.8" r="6.95"/><circle cx="372.0" cy="542.7" r="6.95"/><circle cx="373.2" cy="542.5" r="6.95"/><circle cx="373.3" cy="539.8" r="6.95"/><circle cx="375.3" cy="540.3" r="6.95"/><circle cx="375.0" cy="538.4" r="6.95"/><circle cx="376.6" cy="538.9" r="6.95"/><circle cx="376.7" cy="537.3" r="6.95"/><circle cx="377.9" cy="537.2" r="6.95"/><circle cx="377.6" cy="536.2" r="6.95"/><circle cx="379.5" cy="536.5" r="6.95"/><circle cx="379.5" cy="535.4" r="6.95"/><circle cx="381.4" cy="536.0" r="6.95"/><circle cx="381.5" cy="535.0" r="6.95"/><circle cx="383.0" cy="535.3" r="6.95"/><circle cx="383.5" cy="533.1" r="6.95"/><circle cx="384.6" cy="533.4" r="6.95"/><circle cx="384.2" cy="531.3" r="6.95"/><circle cx="385.9" cy="531.2" r="6.95"/><circle cx="385.4" cy="530.0" r="6.95"/><circle cx="386.9" cy="530.4" r="6.95"/><circle cx="386.9" cy="529.3" r="6.95"/><circle cx="389.4" cy="528.9" r="6.95"/><circle cx="389.1" cy="528.0" r="6.95"/><circle cx="390.2" cy="528.4" r="6.95"/><circle cx="389.6" cy="526.8" r="6.95"/><circle cx="390.7" cy="527.2" r="6.95"/><circle cx="390.5" cy="523.9" r="6.95"/><circle cx="392.1" cy="523.6" r="6.95"/><circle cx="391.5" cy="522.4" r="6.95"/><circle cx="393.1" cy="522.9" r="6.95"/><circle cx="392.7" cy="521.2" r="6.95"/><circle cx="394.0" cy="521.5" r="6.95"/><circle cx="393.2" cy="519.6" r="6.95"/><circle cx="394.4" cy="520.2" r="6.95"/><circle cx="393.8" cy="518.4" r="6.95"/><circle cx="395.9" cy="518.5" r="6.95"/><circle cx="395.7" cy="517.6" r="6.95"/><circle cx="396.9" cy="518.0" r="6.95"/><circle cx="396.8" cy="517.2" r="6.95"/><circle cx="398.7" cy="517.9" r="6.95"/><circle cx="398.9" cy="516.7" r="6.95"/><circle cx="401.1" cy="517.2" r="6.95"/><circle cx="400.5" cy="516.2" r="6.95"/><circle cx="402.2" cy="516.0" r="6.95"/><circle cx="401.9" cy="514.1" r="6.95"/><circle cx="402.9" cy="513.8" r="6.95"/><circle cx="402.3" cy="512.5" r="6.95"/><circle cx="403.5" cy="512.6" r="6.95"/><circle cx="403.0" cy="511.7" r="6.95"/><circle cx="404.6" cy="511.7" r="6.95"/><circle cx="404.1" cy="510.7" r="6.95"/><circle cx="405.5" cy="510.5" r="6.95"/><circle cx="405.7" cy="508.4" r="6.95"/><circle cx="407.4" cy="507.9" r="6.95"/><circle cx="407.0" cy="506.3" r="6.95"/><circle cx="408.3" cy="506.4" r="6.95"/><circle cx="407.7" cy="505.3" r="6.95"/><circle cx="408.8" cy="505.9" r="6.95"/><circle cx="408.8" cy="504.4" r="6.95"/><circle cx="411.0" cy="504.3" r="6.95"/><circle cx="410.3" cy="503.0" r="6.95"/><circle cx="411.5" cy="502.3" r="6.95"/><circle cx="410.8" cy="501.2" r="6.95"/><circle cx="411.9" cy="501.1" r="6.95"/><circle cx="411.6" cy="499.3" r="6.95"/><circle cx="412.9" cy="499.7" r="6.95"/><circle cx="413.3" cy="498.2" r="6.95"/><circle cx="416.0" cy="498.4" r="6.95"/><circle cx="416.3" cy="497.2" r="6.95"/><circle cx="417.6" cy="497.5" r="6.95"/><circle cx="417.0" cy="495.8" r="6.95"/><circle cx="418.4" cy="496.0" r="6.95"/><circle cx="417.6" cy="494.6" r="6.95"/><circle cx="418.8" cy="494.3" r="6.95"/><circle cx="418.7" cy="492.7" r="6.95"/><circle cx="419.9" cy="493.2" r="6.95"/><circle cx="419.5" cy="490.8" r="6.95"/><circle cx="420.8" cy="491.0" r="6.95"/><circle cx="420.1" cy="489.7" r="6.95"/><circle cx="421.7" cy="488.8" r="6.95"/><circle cx="421.0" cy="487.2" r="6.95"/><circle cx="422.4" cy="487.0" r="6.95"/><circle cx="421.7" cy="486.1" r="6.95"/><circle cx="423.8" cy="486.4" r="6.95"/><circle cx="423.5" cy="485.3" r="6.95"/><circle cx="425.3" cy="485.9" r="6.95"/><circle cx="424.8" cy="484.8" r="6.95"/><circle cx="426.2" cy="485.4" r="6.95"/><circle cx="426.3" cy="484.4" r="6.95"/><circle cx="428.1" cy="483.8" r="6.95"/><circle cx="427.3" cy="482.2" r="6.95"/><circle cx="428.7" cy="481.4" r="6.95"/><circle cx="428.4" cy="480.1" r="6.95"/><circle cx="429.5" cy="480.3" r="6.95"/><circle cx="428.8" cy="479.2" r="6.95"/><circle cx="430.7" cy="479.4" r="6.95"/><circle cx="430.6" cy="478.2" r="6.95"/><circle cx="431.6" cy="478.3" r="6.95"/><circle cx="431.2" cy="477.4" r="6.95"/><circle cx="433.2" cy="475.5" r="6.95"/><circle cx="432.8" cy="473.7" r="6.95"/><circle cx="434.4" cy="473.4" r="6.95"/><circle cx="434.2" cy="472.0" r="6.95"/><circle cx="435.9" cy="471.4" r="6.95"/><circle cx="435.1" cy="470.1" r="6.95"/><circle cx="436.3" cy="470.2" r="6.95"/><circle cx="435.7" cy="467.1" r="6.95"/><circle cx="437.0" cy="466.7" r="6.95"/><circle cx="437.0" cy="465.2" r="6.95"/><circle cx="438.7" cy="465.3" r="6.95"/><circle cx="438.8" cy="464.5" r="6.95"/><circle cx="441.2" cy="464.5" r="6.95"/><circle cx="440.9" cy="463.5" r="6.95"/><circle cx="442.6" cy="463.5" r="6.95"/><circle cx="442.0" cy="462.7" r="6.95"/><circle cx="443.9" cy="462.0" r="6.95"/><circle cx="443.1" cy="460.9" r="6.95"/><circle cx="444.4" cy="461.4" r="6.95"/><circle cx="443.8" cy="460.5" r="6.95"/><circle cx="445.3" cy="460.6" r="6.95"/><circle cx="445.1" cy="459.1" r="6.95"/><circle cx="447.2" cy="457.8" r="6.95"/><circle cx="446.7" cy="456.6" r="6.95"/><circle cx="447.5" cy="456.6" r="6.95"/><circle cx="446.9" cy="455.3" r="6.95"/><circle cx="448.3" cy="454.7" r="6.95"/><circle cx="447.5" cy="453.5" r="6.95"/><circle cx="449.1" cy="453.7" r="6.95"/><circle cx="449.8" cy="451.8" r="6.95"/><circle cx="451.9" cy="450.8" r="6.95"/><circle cx="451.0" cy="449.2" r="6.95"/><circle cx="452.2" cy="447.6" r="6.95"/><circle cx="451.3" cy="446.4" r="6.95"/><circle cx="452.3" cy="446.4" r="6.95"/><circle cx="452.1" cy="445.2" r="6.95"/><circle cx="453.7" cy="445.2" r="6.95"/><circle cx="453.3" cy="444.0" r="6.95"/><circle cx="455.4" cy="443.8" r="6.95"/><circle cx="455.4" cy="442.4" r="6.95"/><circle cx="456.6" cy="442.1" r="6.95"/><circle cx="456.5" cy="439.9" r="6.95"/><circle cx="458.0" cy="439.8" r="6.95"/><circle cx="457.7" cy="438.5" r="6.95"/><circle cx="459.4" cy="438.0" r="6.95"/><circle cx="458.3" cy="436.9" r="6.95"/><circle cx="459.6" cy="436.2" r="6.95"/><circle cx="458.7" cy="434.8" r="6.95"/><circle cx="459.5" cy="434.9" r="6.95"/><circle cx="458.1" cy="432.2" r="6.95"/><circle cx="459.6" cy="431.6" r="6.95"/><circle cx="459.6" cy="430.3" r="6.95"/><circle cx="461.5" cy="430.1" r="6.95"/><circle cx="462.3" cy="427.9" r="6.95"/><circle cx="463.1" cy="428.0" r="6.95"/><circle cx="462.3" cy="427.4" r="6.95"/><circle cx="463.5" cy="427.1" r="6.95"/><circle cx="463.1" cy="425.3" r="6.95"/><circle cx="465.4" cy="423.4" r="6.95"/><circle cx="465.1" cy="422.2" r="6.95"/><circle cx="466.9" cy="421.5" r="6.95"/><circle cx="466.6" cy="419.3" r="6.95"/><circle cx="467.6" cy="419.0" r="6.95"/><circle cx="467.4" cy="417.3" r="6.95"/><circle cx="468.7" cy="417.5" r="6.95"/><circle cx="468.6" cy="416.6" r="6.95"/><circle cx="470.6" cy="416.4" r="6.95"/><circle cx="470.2" cy="415.0" r="6.95"/><circle cx="471.5" cy="414.8" r="6.95"/><circle cx="470.7" cy="412.9" r="6.95"/><circle cx="471.5" cy="412.5" r="6.95"/><circle cx="470.7" cy="411.3" r="6.95"/><circle cx="471.3" cy="410.2" r="6.95"/><circle cx="471.4" cy="408.0" r="6.95"/><circle cx="473.1" cy="408.2" r="6.95"/><circle cx="473.8" cy="406.6" r="6.95"/><circle cx="474.8" cy="406.6" r="6.95"/><circle cx="475.1" cy="404.9" r="6.95"/><circle cx="476.7" cy="404.4" r="6.95"/><circle cx="476.6" cy="403.5" r="6.95"/><circle cx="478.2" cy="403.4" r="6.95"/><circle cx="478.0" cy="402.4" r="6.95"/><circle cx="479.6" cy="402.3" r="6.95"/><circle cx="479.5" cy="401.0" r="6.95"/><circle cx="480.7" cy="400.8" r="6.95"/><circle cx="480.0" cy="398.5" r="6.95"/><circle cx="481.0" cy="398.6" r="6.95"/><circle cx="480.5" cy="396.9" r="6.95"/><circle cx="481.6" cy="396.8" r="6.95"/><circle cx="482.0" cy="395.5" r="6.95"/><circle cx="483.4" cy="395.5" r="6.95"/><circle cx="483.0" cy="394.9" r="6.95"/><circle cx="484.7" cy="395.0" r="6.95"/><circle cx="484.9" cy="393.5" r="6.95"/><circle cx="486.2" cy="392.1" r="6.95"/><circle cx="485.6" cy="390.8" r="6.95"/><circle cx="486.7" cy="390.3" r="6.95"/><circle cx="487.4" cy="388.5" r="6.95"/><circle cx="488.8" cy="388.6" r="6.95"/><circle cx="489.8" cy="386.8" r="6.95"/><circle cx="491.7" cy="386.5" r="6.95"/><circle cx="492.6" cy="384.7" r="6.95"/><circle cx="494.4" cy="384.9" r="6.95"/><circle cx="495.3" cy="383.4" r="6.95"/><circle cx="496.6" cy="383.6" r="6.95"/><circle cx="497.1" cy="379.6" r="6.95"/><circle cx="498.2" cy="377.7" r="6.95"/><circle cx="499.5" cy="375.2" r="6.95"/><circle cx="501.0" cy="375.3" r="6.95"/><circle cx="501.8" cy="373.2" r="6.95"/><circle cx="503.9" cy="372.6" r="6.95"/><circle cx="504.3" cy="371.4" r="6.95"/><circle cx="505.0" cy="371.7" r="6.95"/><circle cx="507.8" cy="368.8" r="6.95"/><circle cx="509.3" cy="367.8" r="6.95"/><circle cx="509.1" cy="366.9" r="6.95"/><circle cx="510.3" cy="367.2" r="6.95"/><circle cx="511.3" cy="365.7" r="6.95"/><circle cx="513.2" cy="366.2" r="6.95"/><circle cx="513.5" cy="365.2" r="6.95"/><circle cx="514.8" cy="365.4" r="6.95"/><circle cx="515.2" cy="362.7" r="6.95"/><circle cx="516.3" cy="360.9" r="6.95"/><circle cx="516.6" cy="358.6" r="6.95"/><circle cx="519.7" cy="356.0" r="6.95"/><circle cx="520.7" cy="353.8" r="6.95"/><circle cx="522.2" cy="354.0" r="6.95"/><circle cx="523.6" cy="352.7" r="6.95"/><circle cx="524.9" cy="352.7" r="6.95"/><circle cx="525.0" cy="351.2" r="6.95"/><circle cx="526.0" cy="350.0" r="6.95"/><circle cx="525.8" cy="347.5" r="6.95"/><circle cx="527.9" cy="346.7" r="6.95"/><circle cx="528.6" cy="345.3" r="6.95"/><circle cx="529.7" cy="345.4" r="6.95"/><circle cx="529.3" cy="344.5" r="6.95"/><circle cx="530.7" cy="344.2" r="6.95"/><circle cx="530.7" cy="342.5" r="6.95"/><circle cx="532.2" cy="341.6" r="6.95"/><circle cx="533.0" cy="339.9" r="6.95"/><circle cx="535.5" cy="338.6" r="6.95"/><circle cx="535.4" cy="336.8" r="6.95"/><circle cx="536.6" cy="336.7" r="6.95"/><circle cx="537.7" cy="335.1" r="6.95"/><circle cx="540.5" cy="335.1" r="6.95"/><circle cx="541.5" cy="333.5" r="6.95"/><circle cx="542.8" cy="332.6" r="6.95"/><circle cx="542.1" cy="330.8" r="6.95"/><circle cx="543.0" cy="328.8" r="6.95"/><circle cx="542.8" cy="326.2" r="6.95"/><circle cx="544.0" cy="324.5" r="6.95"/><circle cx="543.5" cy="322.9" r="6.95"/><circle cx="546.1" cy="320.1" r="6.95"/><circle cx="546.5" cy="318.7" r="6.95"/><circle cx="548.0" cy="317.5" r="6.95"/><circle cx="547.8" cy="314.8" r="6.95"/><circle cx="549.9" cy="312.6" r="6.95"/><circle cx="552.2" cy="309.4" r="6.95"/><circle cx="553.1" cy="309.2" r="6.95"/><circle cx="552.8" cy="307.2" r="6.95"/><circle cx="553.7" cy="306.7" r="6.95"/><circle cx="554.3" cy="303.7" r="6.95"/><circle cx="555.5" cy="301.7" r="6.95"/><circle cx="557.7" cy="297.6" r="6.95"/><circle cx="560.1" cy="297.3" r="6.95"/><circle cx="560.7" cy="295.6" r="6.95"/><circle cx="562.0" cy="292.6" r="6.95"/><circle cx="562.1" cy="291.1" r="6.95"/><circle cx="563.5" cy="290.5" r="6.95"/><circle cx="563.1" cy="289.6" r="6.95"/><circle cx="564.2" cy="289.3" r="6.95"/><circle cx="564.5" cy="287.0" r="6.95"/><circle cx="565.6" cy="286.0" r="6.95"/><circle cx="566.0" cy="284.0" r="6.95"/><circle cx="567.6" cy="283.6" r="6.95"/><circle cx="567.8" cy="281.8" r="6.95"/><circle cx="569.3" cy="278.5" r="6.95"/><circle cx="569.4" cy="276.8" r="6.95"/><circle cx="572.1" cy="276.4" r="6.95"/><circle cx="573.4" cy="275.1" r="6.95"/><circle cx="576.5" cy="271.7" r="6.95"/><circle cx="576.6" cy="269.9" r="6.95"/><circle cx="578.0" cy="268.5" r="6.95"/><circle cx="578.1" cy="263.2" r="6.95"/><circle cx="579.5" cy="262.7" r="6.95"/><circle cx="636.4" cy="145.0" r="6.95"/><circle cx="631.2" cy="154.7" r="6.95"/><circle cx="624.9" cy="159.2" r="6.95"/><circle cx="625.4" cy="158.5" r="6.95"/><circle cx="624.5" cy="166.9" r="6.95"/><circle cx="620.7" cy="177.0" r="6.95"/><circle cx="620.3" cy="177.6" r="6.95"/><circle cx="617.9" cy="179.4" r="6.95"/><circle cx="617.5" cy="180.0" r="6.95"/><circle cx="614.8" cy="181.9" r="6.95"/><circle cx="614.4" cy="182.6" r="6.95"/><circle cx="612.8" cy="195.2" r="6.95"/><circle cx="612.3" cy="195.8" r="6.95"/><circle cx="612.0" cy="196.6" r="6.95"/><circle cx="611.6" cy="200.6" r="6.95"/><circle cx="611.3" cy="201.4" r="6.95"/><circle cx="611.0" cy="202.0" r="6.95"/><circle cx="607.0" cy="207.8" r="6.95"/><circle cx="606.5" cy="208.5" r="6.95"/><circle cx="606.1" cy="209.1" r="6.95"/><circle cx="605.7" cy="209.8" r="6.95"/><circle cx="605.2" cy="210.5" r="6.95"/><circle cx="602.8" cy="214.0" r="6.95"/><circle cx="602.2" cy="215.0" r="6.95"/><circle cx="600.0" cy="218.1" r="6.95"/><circle cx="599.5" cy="218.8" r="6.95"/><circle cx="599.1" cy="219.5" r="6.95"/><circle cx="598.7" cy="220.2" r="6.95"/><circle cx="598.2" cy="221.0" r="6.95"/><circle cx="596.6" cy="225.8" r="6.95"/><circle cx="596.0" cy="227.2" r="6.95"/><circle cx="593.6" cy="233.4" r="6.95"/><circle cx="593.1" cy="234.3" r="6.95"/><circle cx="592.6" cy="235.2" r="6.95"/><circle cx="592.2" cy="236.0" r="6.95"/><circle cx="591.7" cy="236.9" r="6.95"/><circle cx="591.2" cy="237.8" r="6.95"/><circle cx="590.0" cy="242.8" r="6.95"/><circle cx="589.3" cy="244.7" r="6.95"/><circle cx="588.6" cy="246.6" r="6.95"/><circle cx="586.8" cy="253.2" r="6.95"/><circle cx="586.3" cy="254.2" r="6.95"/><circle cx="585.8" cy="255.1" r="6.95"/><circle cx="585.3" cy="256.0" r="6.95"/><circle cx="584.8" cy="257.0" r="6.95"/></g>
<line x1="65.5" y1="890.44" x2="860.5" y2="100.56" stroke="#00f" stroke-opacity="0.33" stroke-width="4.17" transform="translate(0,-1)"/>
<line x1="111.2" y1="844.3" x2="636.5" y2="212.9" stroke="#f00" stroke-opacity="0.33" stroke-width="4.17" stroke-linecap="square"/>
</g>
<g stroke="#000" stroke-width="1.11"><line x1="111.5" y1="880.5" x2="111.5" y2="885.90"/><line x1="70.10" y1="845.5" x2="75.5" y2="845.5"/><line x1="239.5" y1="880.5" x2="239.5" y2="885.90"/><line x1="70.10" y1="717.5" x2="75.5" y2="717.5"/><line x1="368.5" y1="880.5" x2="368.5" y2="885.90"/><line x1="70.10" y1="589.5" x2="75.5" y2="589.5"/><line x1="496.5" y1="880.5" x2="496.5" y2="885.90"/><line x1="70.10" y1="462.5" x2="75.5" y2="462.5"/><line x1="625.5" y1="880.5" x2="625.5" y2="885.90"/><line x1="70.10" y1="334.5" x2="75.5" y2="334.5"/><line x1="753.5" y1="880.5" x2="753.5" y2="885.90"/><line x1="70.10" y1="206.5" x2="75.5" y2="206.5"/></g>
<rect x="75.5" y="110.5" width="775.0" height="770.0" fill="none" stroke="#000" stroke-width="1.11"/>
<g font-size="13.89" letter-spacing="-0.42"><text x="111.30" y="901.3" text-anchor="middle">0</text><text x="66.7" y="850.0" text-anchor="end">0</text><text x="238.90" y="901.3" text-anchor="middle">200</text><text x="65.2" y="723.1" text-anchor="end">200</text><text x="367.55" y="901.3" text-anchor="middle">400</text><text x="65.2" y="595.1" text-anchor="end">400</text><text x="496.00" y="901.3" text-anchor="middle">600</text><text x="65.4" y="467.1" text-anchor="end">600</text><text x="625.05" y="901.3" text-anchor="middle">800</text><text x="65.4" y="340.1" text-anchor="end">800</text><text x="753.30" y="901.3" text-anchor="middle">1000</text><text x="65.2" y="212.1" text-anchor="end">1000</text></g>
<text x="462.8" y="921" font-size="16.67" letter-spacing="-0.1" text-anchor="middle">Simulated</text>
<text transform="translate(21.5,496.5) rotate(-90)" font-size="16.67" text-anchor="middle">Observed</text>
<text x="450" y="24.5" font-size="19.44" text-anchor="middle">Q-Q plot at vi.landsvirkjun.6670 for downward_shortwave_flux</text>
<text x="450.5" y="48" font-size="19.44" text-anchor="middle">from rav2-09-10 during spring</text>
</svg>
</body></html>
